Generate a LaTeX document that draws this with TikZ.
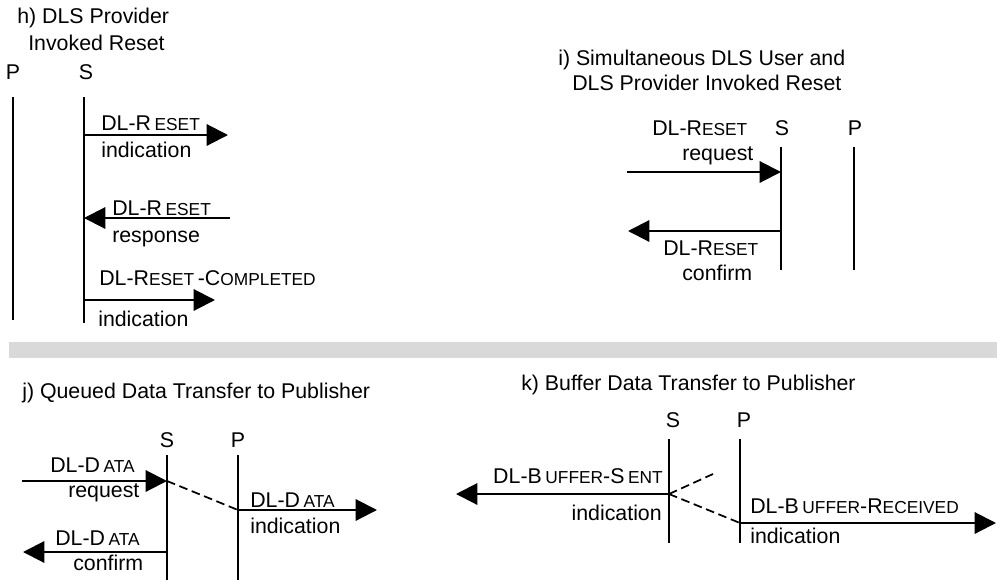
\documentclass[tikz,border=0pt]{standalone}
\usepackage{fontspec}
\setmainfont{Liberation Sans}
\usetikzlibrary{arrows.meta}

% reduced capitals used in primitive names
\newcommand\lowcaps[1]{{\fontsize{13pt}{14pt}\selectfont #1}}

\tikzset{
  every node/.style={inner sep=0pt, font=\fontsize{16pt}{18pt}\selectfont},
  lbl/.style={anchor=base west},
  lblr/.style={anchor=base east},
  actor/.style={anchor=base},
  lifeline/.style={line width=1.6pt},
  msg/.style={line width=1.6pt, -{Triangle[length=16pt,width=16pt]}},
  relay/.style={line width=1.3pt, dash pattern=on 6.5pt off 3.5pt},
}

\begin{document}
\begin{tikzpicture}[x=0.75pt,y=-0.75pt]
\useasboundingbox (0,0) rectangle (997,583);

% ---------- h) provider invoked reset ----------
\node[lbl] (hT1) at (17,23) {h) DLS Provider};
\node[lbl] (hT2) at (28,50) {Invoked Reset};
\node[actor] (hP) at (13,79) {P};
\node[actor] (hS) at (86,79) {S};
\coordinate (hPtop) at (13,97);  \coordinate (hPbot) at (13,320);
\coordinate (hStop) at (84,97);  \coordinate (hSbot) at (84,323);
\draw[lifeline] (hPtop) -- (hPbot);
\draw[lifeline] (hStop) -- (hSbot);

\coordinate (hS1) at (84,135);  \coordinate (hE1) at (228,135);
\draw[msg] (hS1) -- (hE1);
\node[lbl] (hL1a) at (101,130) {DL-R\,\lowcaps{ESET}};
\node[lbl] (hL1b) at (101,157) {indication};

\coordinate (hE2) at (230,218); \coordinate (hS2) at (84,218);
\draw[msg] (hE2) -- (hS2);
\node[lbl] (hL2a) at (112,215) {DL-R\,\lowcaps{ESET}};
\node[lbl] (hL2b) at (112,242) {response};

\coordinate (hS3) at (84,300);  \coordinate (hE3) at (215,300);
\draw[msg] (hS3) -- (hE3);
\node[lbl] (hL3a) at (99,285) {DL-R\lowcaps{ESET}\,-C\lowcaps{OMPLETED}};
\node[lbl] (hL3b) at (98,326) {indication};

% ---------- i) simultaneous reset ----------
\node[lbl] (iT1) at (558,65) {i) Simultaneous DLS User and};
\node[lbl] (iT2) at (572,90) {DLS Provider Invoked Reset};
\node[actor] (iS) at (782,135) {S};
\node[actor] (iP) at (855,135) {P};
\coordinate (iStop) at (781,147); \coordinate (iSbot) at (781,270);
\coordinate (iPtop) at (854,147); \coordinate (iPbot) at (854,270);
\draw[lifeline] (iStop) -- (iSbot);
\draw[lifeline] (iPtop) -- (iPbot);

\coordinate (iE1) at (627,172); \coordinate (iS1) at (781,172);
\draw[msg] (iE1) -- (iS1);
\node[lbl] (iL1a) at (652,135) {DL-R\lowcaps{ESET}};
\node[lbl] (iL1b) at (682,160) {request};

\coordinate (iS2) at (781,231); \coordinate (iE2) at (628,231);
\draw[msg] (iS2) -- (iE2);
\node[lbl] (iL2a) at (663,255) {DL-R\lowcaps{ESET}};
\node[lbl] (iL2b) at (682,280) {confirm};

% ---------- separator band ----------
\fill[gray!30] (9,342) rectangle (997,358);

% ---------- j) queued data transfer ----------
\node[lbl] (jT) at (22,398) {j) Queued Data Transfer to Publisher};
\node[actor] (jS) at (167,447) {S};
\node[actor] (jP) at (238,447) {P};
\coordinate (jStop) at (167,455); \coordinate (jSbot) at (167,580);
\coordinate (jPtop) at (238,455); \coordinate (jPbot) at (238,580);
\draw[lifeline] (jStop) -- (jSbot);
\draw[lifeline] (jPtop) -- (jPbot);

\coordinate (jE1) at (22,481);  \coordinate (jS1) at (167,481);
\draw[msg] (jE1) -- (jS1);
\node[lbl] (jL1a) at (50,472) {DL-D\,\lowcaps{ATA}};
\node[lbl] (jL1b) at (68,497) {request};

\coordinate (jP1) at (238,510); \coordinate (jE2) at (377,510);
\draw[relay] (jS1) -- (jP1);
\draw[msg] (jP1) -- (jE2);
\node[lbl] (jL2a) at (250,507) {DL-D\,\lowcaps{ATA}};
\node[lbl] (jL2b) at (250,533) {indication};

\coordinate (jS3) at (167,552); \coordinate (jE3) at (23,552);
\draw[msg] (jS3) -- (jE3);
\node[lbl] (jL3a) at (55,545) {DL-D\,\lowcaps{ATA}};
\node[lbl] (jL3b) at (73,570) {confirm};

% ---------- k) buffer data transfer ----------
\node[lbl] (kT) at (521,390) {k) Buffer Data Transfer to Publisher};
\node[actor] (kS) at (673,427) {S};
\node[actor] (kP) at (744,427) {P};
\coordinate (kStop) at (669,439); \coordinate (kSbot) at (669,543);
\coordinate (kPtop) at (740,439); \coordinate (kPbot) at (740,543);
\draw[lifeline] (kStop) -- (kSbot);
\draw[lifeline] (kPtop) -- (kPbot);

\coordinate (kS1) at (669,494); \coordinate (kE1) at (456,494);
\draw[msg] (kS1) -- (kE1);
\node[lblr] (kL1a) at (663,483) {DL-B\,\lowcaps{UFFER}-S\,\lowcaps{ENT}};
\node[lblr] (kL1b) at (662,520) {indication};

\coordinate (kD) at (713,474);
\coordinate (kP1) at (740,523); \coordinate (kE2) at (996,523);
\draw[relay] (kS1) -- (kD);
\draw[relay] (kS1) -- (kP1);
\draw[msg] (kP1) -- (kE2);
\node[lbl] (kL2a) at (750,513) {DL-B\,\lowcaps{UFFER}-R\lowcaps{ECEIVED}};
\node[lbl] (kL2b) at (750,543) {indication};
\end{tikzpicture}
\end{document}
